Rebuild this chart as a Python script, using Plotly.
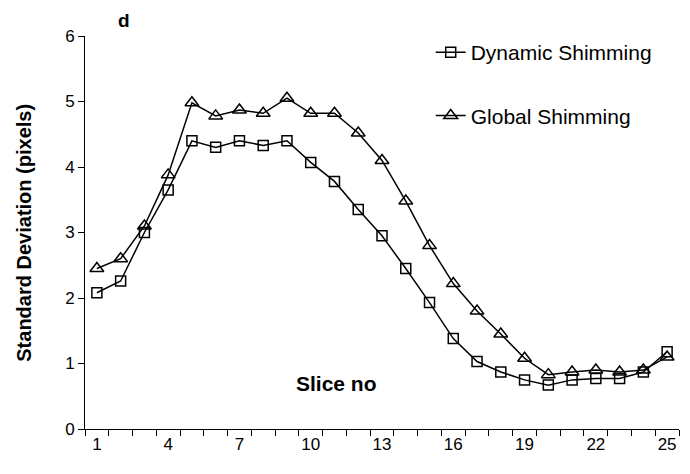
import plotly.graph_objects as go

slices = list(range(1, 26))
dynamic = [2.08, 2.26, 3.0, 3.65, 4.4, 4.3, 4.4, 4.33, 4.4, 4.07, 3.78, 3.35, 2.95,
           2.45, 1.93, 1.38, 1.03, 0.87, 0.75, 0.67, 0.75, 0.77, 0.77, 0.87, 1.18]
global_ = [2.45, 2.6, 3.1, 3.88, 4.98, 4.78, 4.87, 4.82, 5.05, 4.82, 4.82, 4.52, 4.1,
           3.48, 2.8, 2.22, 1.8, 1.45, 1.08, 0.83, 0.87, 0.9, 0.87, 0.9, 1.1]
x_ticks = [1, 4, 7, 10, 13, 16, 19, 22, 25]
y_ticks = [0, 1, 2, 3, 4, 5, 6]

FONT = "Liberation Sans, Arial, sans-serif"

fig = go.Figure()
fig.add_trace(go.Scatter(
    x=slices, y=dynamic, mode="lines+markers", name="Dynamic Shimming",
    legendgroup="a",
    line=dict(color="black", width=1.5),
    marker=dict(symbol="square-open", size=10, color="black", line=dict(width=1.5)),
))
fig.add_trace(go.Scatter(
    x=slices, y=global_, mode="lines+markers", name="Global Shimming",
    legendgroup="b",
    line=dict(color="black", width=1.5),
    marker=dict(symbol="triangle-up-open", size=12, color="black", line=dict(width=1.5)),
))

# page body has an 8px margin, so the figure is sized to fit inside the window
fig.update_layout(
    width=682, height=466,
    margin=dict(l=77, r=11, t=28, b=45),
    paper_bgcolor="white", plot_bgcolor="white",
    font=dict(family=FONT, color="black", size=16),
    showlegend=True,
    legend=dict(x=0.582, y=1.01, xanchor="left", yanchor="top",
                font=dict(size=21, family=FONT), tracegroupgap=33,
                bgcolor="rgba(0,0,0,0)", traceorder="grouped"),
    xaxis=dict(range=[0.5, 25.5], tickmode="array", tickvals=x_ticks,
               ticktext=[str(v) for v in x_ticks], ticks="",
               showline=True, linecolor="black", linewidth=1,
               showgrid=False, zeroline=False, tickfont=dict(size=17),
               automargin=False,
               minor=dict(ticks="outside", ticklen=6, tickcolor="black",
                          tick0=0.5, dtick=1, showgrid=False)),
    yaxis=dict(range=[0, 6], tickmode="array", tickvals=y_ticks,
               ticks="outside", ticklen=6, tickcolor="black",
               showline=True, linecolor="black", linewidth=1,
               showgrid=False, zeroline=False, tickfont=dict(size=17),
               automargin=False),
    annotations=[
        dict(text="<b>Standard Deviation (pixels)</b>", x=-0.104, y=0.5,
             xref="paper", yref="paper", textangle=-90, showarrow=False,
             font=dict(size=20), xanchor="center", yanchor="middle"),
        dict(text="<b>Slice no</b>", x=0.4226, y=0.117, xref="paper", yref="paper",
             showarrow=False, font=dict(size=21), xanchor="center", yanchor="middle"),
        dict(text="<b>d</b>", x=0.066, y=1.04, xref="paper", yref="paper",
             showarrow=False, font=dict(size=19), xanchor="center", yanchor="middle"),
    ],
)

fig.write_html("out.html")
